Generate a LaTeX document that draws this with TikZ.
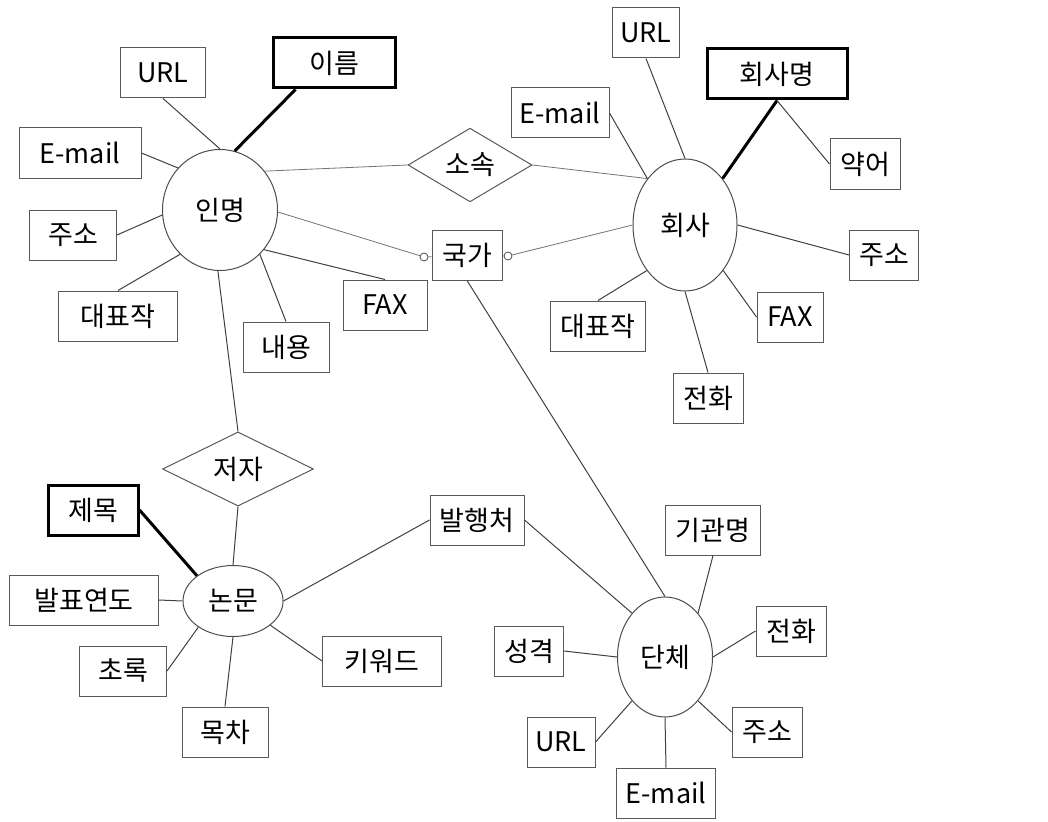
\documentclass[tikz,border=0pt]{standalone}
\usepackage{fontspec}
\newfontfamily\kr{Noto Sans CJK KR}
\usepackage{tikz}
\usetikzlibrary{shapes.geometric,arrows.meta}

\begin{document}
\begin{tikzpicture}[x=1pt,y=-1pt,
  every node/.style={font=\kr\fontsize{27}{32}\selectfont, inner sep=0pt},
  attr/.style={draw=black!65, line width=1pt, rectangle, minimum height=50},
  keyattr/.style={draw=black, line width=3pt, rectangle, minimum height=50},
  ent/.style={draw=black!70, line width=1pt, ellipse},
  rel/.style={draw=black!65, line width=1pt, diamond},
  tiny/.style={draw=black!70, line width=0.8pt, circle, minimum size=8},
  ln/.style={draw=black!75, line width=1pt},
  thinln/.style={draw=black!55, line width=0.8pt},
  keyln/.style={draw=black, line width=3pt}]
  \useasboundingbox (0,0) rectangle (1048,821);

  % 인명
  \node[ent, minimum width=115, minimum height=121] (inmyeong) at (220,210) {인명};
  \node[attr, minimum width=85] (urla) at (163,73) {URL};
  \node[keyattr, minimum width=122] (ireum) at (334,63) {이름};
  \node[attr, minimum width=122] (emaila) at (80,153) {E-mail};
  \node[attr, minimum width=87] (jusoa) at (73,235) {주소};
  \node[attr, minimum width=119] (daepyoa) at (118,316) {대표작};
  \node[attr, minimum width=86] (naeyong) at (286,347) {내용};
  \node[attr, minimum width=84] (faxa) at (385,305) {FAX};

  % 관계
  \node[rel, minimum width=124, minimum height=72] (sosok) at (470,165) {소속};
  \node[attr, minimum width=70] (gukga) at (467,255) {국가};
  \node[tiny] (cl) at (424,257) {};
  \node[tiny] (cr) at (508,256) {};
  \node[rel, minimum width=151, minimum height=69] (jeoja) at (238,469) {저자};

  % 회사
  \node[ent, minimum width=104, minimum height=132] (hoesa) at (685,225) {회사};
  \node[attr, minimum width=67] (urlb) at (646,33) {URL};
  \node[keyattr, minimum width=140] (hoesamyeong) at (777,74) {회사명};
  \node[attr, minimum width=98] (emailb) at (560,113) {E-mail};
  \node[attr, minimum width=70] (yageo) at (865,164) {약어};
  \node[attr, minimum width=69] (jusob) at (884,255) {주소};
  \node[attr, minimum width=66] (faxb) at (790,317) {FAX};
  \node[attr, minimum width=70] (jeonhwab) at (708,398) {전화};
  \node[attr, minimum width=95] (daepyob) at (598,326) {대표작};

  % 논문
  \node[ent, minimum width=100, minimum height=71] (nonmun) at (233,601) {논문};
  \node[keyattr, minimum width=90] (jemok) at (93,510) {제목};
  \node[attr, minimum width=149] (balpyo) at (84,600) {발표연도};
  \node[attr, minimum width=87] (chorok) at (123,671) {초록};
  \node[attr, minimum width=86] (mokcha) at (225,732) {목차};
  \node[attr, minimum width=119] (keyword) at (382,661) {키워드};
  \node[attr, minimum width=94] (balhaeng) at (477,520) {발행처};

  % 단체
  \node[ent, minimum width=95, minimum height=120] (danche) at (665,657) {단체};
  \node[attr, minimum width=95] (gigwan) at (713,530) {기관명};
  \node[attr, minimum width=70] (jeonhwac) at (791,631) {전화};
  \node[attr, minimum width=69] (seonggyeok) at (529,651) {성격};
  \node[attr, minimum width=68] (urlc) at (561,742) {URL};
  \node[attr, minimum width=70] (jusoc) at (767,732) {주소};
  \node[attr, minimum width=99] (emailc) at (666,793) {E-mail};

  \draw[ln] (urla.south) -- (inmyeong.north);
  \draw[keyln] ([xshift=24pt]ireum.south west) -- (inmyeong.76);
  \draw[ln] (emaila.east) -- (inmyeong.135);
  \draw[ln] (jusoa.east) -- (inmyeong.185);
  \draw[ln] (daepyoa.north) -- (inmyeong.228);
  \draw[ln] (naeyong.north) -- (inmyeong.312);
  \draw[ln] (faxa.north) -- (inmyeong.318);
  \draw[ln] (inmyeong.268) -- (jeoja.north);

  \draw[thinln] (inmyeong.41) -- (sosok.west);
  \draw[thinln] (sosok.east) -- (hoesa.129);
  \draw[thinln] (inmyeong.358) -- (cl) -- (gukga);
  \draw[thinln] (gukga) -- (cr) -- (hoesa.west);
  \draw[ln] (gukga.south) -- (danche.north);

  \draw[ln] (urlb.south) -- (hoesa.north);
  \draw[ln] (emailb.east) -- (hoesa.129);
  \draw[keyln] (hoesamyeong.south) -- (hoesa.51);
  \draw[ln] (hoesamyeong.south) -- (yageo.west);
  \draw[ln] (hoesa.east) -- (jusob.west);
  \draw[ln] (hoesa.-50) -- (faxb.west);
  \draw[ln] (hoesa.south) -- (jeonhwab.north);
  \draw[ln] (hoesa.230) -- (daepyob.north);

  \draw[ln] (jeoja.south) -- (nonmun.north);
  \draw[keyln] (jemok.east) -- (nonmun.145);
  \draw[ln] (balpyo.east) -- (nonmun.west);
  \draw[ln] (chorok.east) -- (nonmun.217);
  \draw[ln] (mokcha.north) -- (nonmun.south);
  \draw[ln] (keyword.west) -- (nonmun.327);
  \draw[ln] (nonmun.east) -- (balhaeng.west);

  \draw[ln] (balhaeng.east) -- (danche.127);
  \draw[ln] (gigwan.south) -- (danche.53);
  \draw[ln] (jeonhwac.west) -- (danche.east);
  \draw[ln] (seonggyeok.east) -- (danche.west);
  \draw[ln] (urlc.east) -- (danche.233);
  \draw[ln] (jusoc.west) -- (danche.307);
  \draw[ln] (emailc.north) -- (danche.south);
\end{tikzpicture}
\end{document}
